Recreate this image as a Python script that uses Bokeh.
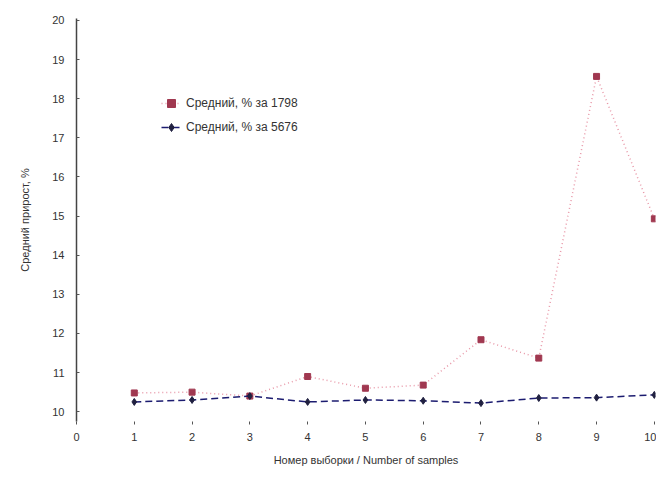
from bokeh.plotting import figure
from bokeh.models import Range1d, FixedTicker, Legend, LegendItem
from bokeh.embed import file_html
from bokeh.resources import INLINE

samples = [1, 2, 3, 4, 5, 6, 7, 8, 9, 10]
series_a = [10.48, 10.5, 10.4, 10.9, 10.6, 10.68, 11.84, 11.37, 18.57, 14.93]
series_b = [10.25, 10.3, 10.4, 10.25, 10.3, 10.28, 10.22, 10.35, 10.36, 10.43]
name_a = "Средний, % за 1798"
name_b = "Средний, % за 5676"
x_ticks = [0, 1, 2, 3, 4, 5, 6, 7, 8, 9, 10]
y_ticks = [10, 11, 12, 13, 14, 15, 16, 17, 18, 19, 20]

FONT = "Liberation Sans"
TXT = "#333333"

p = figure(width=656, height=468, output_backend="svg", toolbar_location=None,
           x_range=Range1d(0, 10.02), y_range=Range1d(9.75, 20.05),
           min_border_left=76, min_border_right=1, min_border_top=18, min_border_bottom=41)
p.outline_line_color = None
p.xgrid.grid_line_color = None
p.ygrid.grid_line_color = None

p.xaxis.ticker = FixedTicker(ticks=x_ticks)
p.yaxis.ticker = FixedTicker(ticks=y_ticks)
p.xaxis.minor_tick_line_color = None
p.yaxis.minor_tick_line_color = None
p.xaxis.axis_line_color = None
p.xaxis.major_tick_line_color = "#555555"
p.xaxis.major_tick_in = 0
p.xaxis.major_tick_out = 3
p.yaxis.axis_line_color = "#444444"
p.yaxis.axis_line_width = 1.5
p.yaxis.major_tick_in = 3
p.yaxis.major_tick_out = 0
p.yaxis.major_tick_line_color = "#555555"
for ax in (p.xaxis, p.yaxis):
    ax.major_label_text_font = FONT
    ax.major_label_text_font_size = "11px"
    ax.major_label_text_color = TXT
    ax.axis_label_text_font = FONT
    ax.axis_label_text_font_size = "11px"
    ax.axis_label_text_font_style = "normal"
    ax.axis_label_text_color = TXT
p.xaxis.major_label_standoff = 8
p.yaxis.major_label_standoff = 12
p.xaxis.axis_label = "Номер выборки / Number of samples"
p.yaxis.axis_label = "Средний прирост, %"
p.xaxis.axis_label_standoff = 10
p.yaxis.axis_label_standoff = 18

la = p.line(samples, series_a, line_color="#e898a8", line_width=1.5, line_dash="1 3")
ma = p.scatter(samples, series_a, marker="square", size=6, fill_color="#a03850", line_color="#a03850")
lb = p.line(samples, series_b, line_color="#1c1c70", line_width=1.5, line_dash="7 4")
mb = p.scatter(samples, series_b, marker="diamond", size=7, fill_color="#202040", line_color="#202040")

legend = Legend(items=[LegendItem(label=name_a, renderers=[la, ma]),
                       LegendItem(label=name_b, renderers=[lb, mb])],
                location=(85, 284))
legend.label_text_font = FONT
legend.label_text_font_size = "12px"
legend.label_text_color = TXT
legend.border_line_color = None
legend.background_fill_alpha = 0
legend.glyph_width = 20
legend.spacing = 4
p.add_layout(legend, "center")

open("out.html", "w").write(file_html(p, INLINE))
